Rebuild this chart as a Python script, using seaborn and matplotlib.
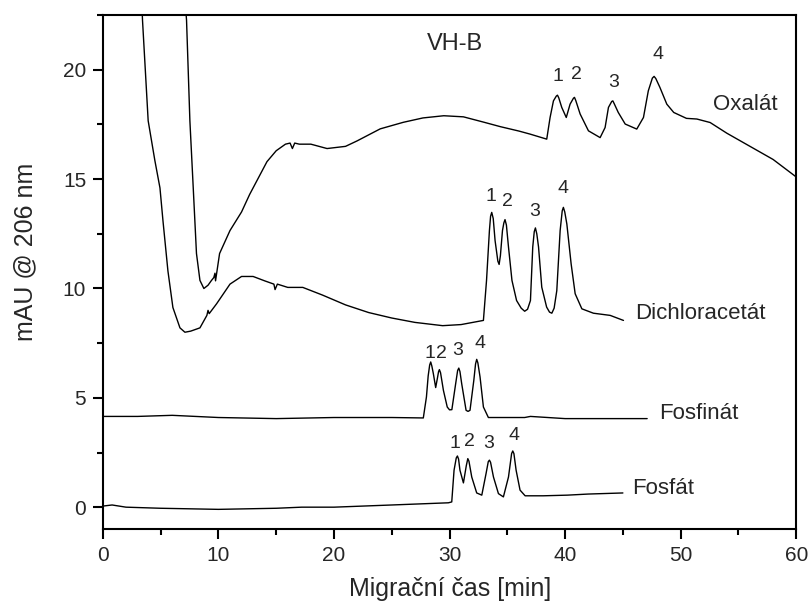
import numpy as np
import pandas as pd
import matplotlib
matplotlib.use('Agg')
import matplotlib.pyplot as plt
from matplotlib.ticker import MultipleLocator
import seaborn as sns

# traces (time in min, signal in mAU)
oxalat_t = [7.0, 7.24, 7.53, 7.82, 8.1, 8.4, 8.74, 9.1, 9.4, 9.6, 9.7, 9.75, 10.1, 11.0, 12.0,
            12.7, 13.5, 14.2, 15.0, 15.8, 16.2, 16.4, 16.6, 17.0, 18.0, 19.4, 21.0, 22.0,
            24.0, 26.0, 27.7, 29.5, 31.2, 33.0, 34.4, 36.0, 36.97, 38.41, 38.7, 38.99,
            39.24, 39.34, 39.45, 39.71, 40.1, 40.43, 40.72, 40.81, 40.92, 41.3, 42.02, 43.03,
            43.46, 43.75, 44.03, 44.13, 44.25, 44.6, 45.2, 46.2, 46.78, 47.2, 47.55, 47.7,
            47.85, 48.2, 48.8, 49.4, 50.5, 51.4, 52.55, 54.0, 56.0, 58.0, 60.0]
oxalat_y = [24.0, 22.27, 17.67, 14.6, 11.6, 10.37, 10.0, 10.15, 10.37, 10.5, 10.7, 10.35, 11.6, 12.65, 13.5,
            14.3, 15.1, 15.8, 16.3, 16.6, 16.65, 16.4, 16.65, 16.6, 16.6, 16.4, 16.5, 16.75,
            17.3, 17.6, 17.8, 17.9, 17.85, 17.6, 17.4, 17.2, 17.06, 16.83, 17.82, 18.58,
            18.8, 18.84, 18.72, 18.28, 17.82, 18.43, 18.7, 18.74, 18.6, 17.98, 17.21, 16.9,
            17.36, 18.28, 18.55, 18.58, 18.45, 18.05, 17.52, 17.29, 17.82, 19.04, 19.62, 19.7,
            19.6, 19.2, 18.43, 18.05, 17.78, 17.75, 17.59, 17.1, 16.5, 15.9, 15.1]

dichlor_t = [3.3, 3.43, 3.92, 4.5, 4.94, 5.2, 5.63, 6.06, 6.67, 7.1, 7.6, 8.4, 9.0, 9.1, 9.2,
             9.84, 11.0, 12.0, 13.0, 14.0, 14.8, 14.9, 15.1, 16.0, 17.3, 19.0, 21.0, 23.0,
             25.0, 27.0, 29.4, 31.0, 32.93, 33.2, 33.45, 33.55, 33.65, 33.78, 33.94, 34.18,
             34.29, 34.4, 34.58, 34.7, 34.8, 34.92, 35.1, 35.4, 35.8, 36.2, 36.5, 36.75,
             37.0, 37.2, 37.33, 37.43, 37.55, 37.7, 37.98, 38.4, 38.65, 38.85, 39.05, 39.28,
             39.57, 39.75, 39.85, 39.97, 40.15, 40.52, 40.87, 41.45, 42.45, 43.9, 45.05]
dichlor_y = [24.0, 22.27, 17.67, 15.85, 14.6, 13.1, 10.8, 9.13, 8.2, 8.0, 8.05, 8.2, 8.77, 9.0, 8.85,
             9.3, 10.2, 10.55, 10.55, 10.35, 10.2, 9.95, 10.2, 10.05, 10.05, 9.7, 9.25, 8.9,
             8.65, 8.45, 8.3, 8.35, 8.54, 10.37, 12.65, 13.3, 13.48, 13.2, 12.19, 11.25,
             11.1, 11.5, 12.65, 13.0, 13.15, 12.9, 11.9, 10.37, 9.45, 9.1, 8.96, 9.05,
             9.45, 11.9, 12.6, 12.77, 12.5, 11.9, 10.06, 9.15, 8.92, 8.87, 9.1, 9.9,
             12.65, 13.55, 13.71, 13.5, 12.95, 11.13, 9.76, 9.07, 8.87, 8.77, 8.54]

fosfinat_t = [0, 3, 6, 8, 10, 15, 20, 25, 27.73, 28.0, 28.15, 28.28, 28.37, 28.47, 28.6, 28.8,
              28.95, 29.05, 29.12, 29.22, 29.47, 29.8, 30.0, 30.2, 30.53, 30.7, 30.8, 30.9,
              31.05, 31.43, 31.6, 31.77, 32.1, 32.25, 32.35, 32.45, 32.64, 32.93, 33.36,
              35.0, 36.5, 37.0, 40.0, 44.0, 47.1]
fosfinat_y = [4.15, 4.15, 4.2, 4.15, 4.1, 4.05, 4.1, 4.1, 4.08, 5.04, 6.0, 6.5, 6.64, 6.45, 6.1, 5.47,
              5.9, 6.2, 6.29, 6.15, 5.34, 4.58, 4.45, 4.46, 5.65, 6.25, 6.36, 6.2,
              5.65, 4.43, 4.38, 4.43, 5.8, 6.55, 6.76, 6.6, 5.95, 4.58, 4.1,
              4.1, 4.1, 4.15, 4.05, 4.05, 4.05]

fosfat_t = [0, 0.8, 2, 5, 10, 15, 17.2, 20, 25, 29.9, 30.19, 30.39, 30.58, 30.68, 30.78, 30.9,
            31.2, 31.45, 31.58, 31.68, 31.92, 32.35, 32.79, 33.16, 33.35, 33.45, 33.55, 33.8,
            34.23, 34.66, 35.1, 35.37, 35.47, 35.57, 35.76, 36.1, 36.54, 38.1, 40.2, 42.0, 45.0]
fosfat_y = [0.05, 0.1, 0.0, -0.05, -0.1, -0.05, 0.0, 0.0, 0.1, 0.2, 0.24, 1.69, 2.25, 2.34, 2.2, 1.69,
            1.11, 1.9, 2.22, 2.1, 1.38, 0.65, 0.55, 1.54, 2.08, 2.15, 2.05, 1.38,
            0.62, 0.47, 1.38, 2.45, 2.57, 2.45, 1.69, 0.78, 0.52, 0.52, 0.55, 0.6, 0.65]

# trace names and where they are written
names = ['Oxalát', 'Dichloracetát', 'Fosfinát', 'Fosfát']
name_x = [52.8, 46.1, 48.1, 45.8]
name_y = [18.4, 8.85, 4.3, 0.85]

# peak numbers 1-4 for each trace
peak_lbl = ['1', '2', '3', '4']
ox_px = [39.4, 41.0, 44.2, 48.0]
ox_py = [19.7, 19.8, 19.4, 20.7]
dc_px = [33.6, 35.0, 37.4, 39.8]
dc_py = [14.2, 14.0, 13.5, 14.55]
fn_px = [28.3, 29.3, 30.7, 32.6]
fn_py = [7.05, 7.05, 7.15, 7.5]
fs_px = [30.5, 31.7, 33.4, 35.6]
fs_py = [2.9, 3.0, 2.9, 3.3]

sns.set_style('ticks')
plt.rcParams['font.family'] = ['Liberation Sans', 'DejaVu Sans']

fig = plt.figure(figsize=(8.1, 6.06), dpi=100)
ax = fig.add_axes([0.127, 0.127, 0.856, 0.848])

traces = [(oxalat_t, oxalat_y), (dichlor_t, dichlor_y),
          (fosfinat_t, fosfinat_y), (fosfat_t, fosfat_y)]
for t, y in traces:
    sns.lineplot(x=t, y=y, ax=ax, color='black', lw=1.0, sort=False, estimator=None)

for n, x, y in zip(names, name_x, name_y):
    ax.text(x, y, n, fontsize=16, va='center', ha='left')

for px, py in [(ox_px, ox_py), (dc_px, dc_py), (fn_px, fn_py), (fs_px, fs_py)]:
    for lbl, x, y in zip(peak_lbl, px, py):
        ax.text(x, y, lbl, fontsize=14, ha='center', va='center')

ax.text(30.5, 21.2, 'VH-B', fontsize=17, ha='center', va='center')

ax.set_xlim(0, 60)
ax.set_ylim(-1, 22.5)
ax.xaxis.set_major_locator(MultipleLocator(10))
ax.xaxis.set_minor_locator(MultipleLocator(5))
ax.yaxis.set_major_locator(MultipleLocator(5))
ax.yaxis.set_minor_locator(MultipleLocator(2.5))
ax.tick_params(which='major', direction='out', length=7, width=1.5, labelsize=15,
               color='black', pad=5)
ax.tick_params(which='minor', direction='out', length=4, width=1.5, color='black')
for s in ax.spines.values():
    s.set_linewidth(1.5)
    s.set_color('black')

ax.set_xlabel('Migrační čas [min]', fontsize=18)
ax.set_ylabel('mAU @ 206 nm', fontsize=18)
ax.xaxis.set_label_coords(0.501, -0.093)
ax.yaxis.set_label_coords(-0.095, 0.539)

fig.savefig('out.png', dpi=100)
